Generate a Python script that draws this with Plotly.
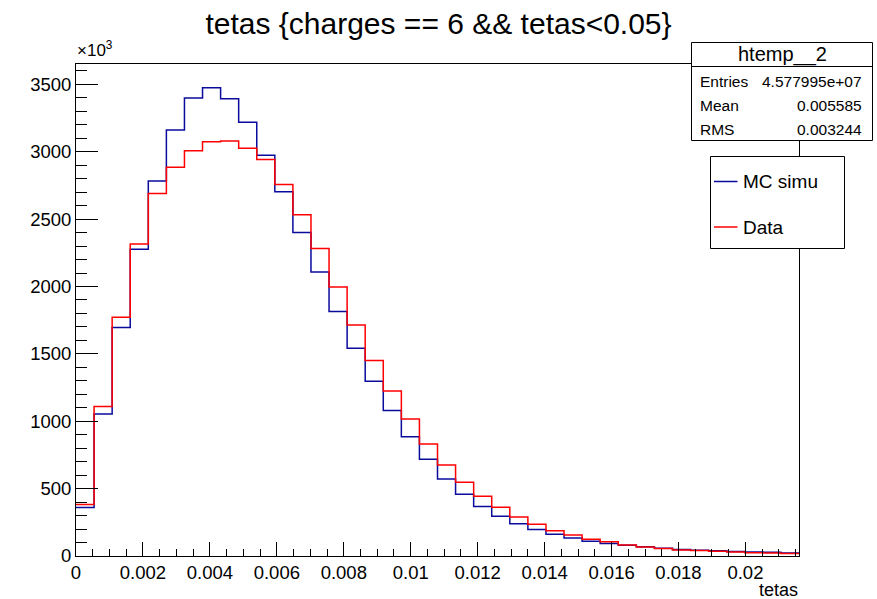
import numpy as np
import plotly.graph_objects as go

# Histogram binning of tetas
x_min, x_max, n_bins = 0.0, 0.0216, 40

# Bin contents (x10^3 entries)
mc_simu = [360, 1054, 1696, 2277, 2782, 3161, 3398, 3475, 3393, 3218,
           2973, 2703, 2401, 2108, 1814, 1542, 1297, 1080, 884, 718,
           572, 458, 367, 295, 240, 196, 161, 134, 109, 92,
           80, 68, 57, 48, 42, 39, 34, 29, 27, 23]
data = [383, 1109, 1772, 2316, 2690, 2884, 3007, 3074, 3079, 3025,
        2943, 2757, 2532, 2282, 1997, 1715, 1451, 1225, 1017, 832,
        676, 547, 443, 362, 290, 235, 188, 156, 125, 105,
        82, 67, 55, 45, 40, 35, 30, 25, 22, 18]

y_ticks = [0, 500, 1000, 1500, 2000, 2500, 3000, 3500]
x_ticks = [0, 0.002, 0.004, 0.006, 0.008, 0.01, 0.012, 0.014, 0.016, 0.018, 0.02]
x_tick_text = ["0", "0.002", "0.004", "0.006", "0.008", "0.01", "0.012",
               "0.014", "0.016", "0.018", "0.02"]

stats_rows = [("Entries", "4.577995e+07"), ("Mean", "0.005585"), ("RMS", "0.003244")]

edges = np.linspace(x_min, x_max, n_bins + 1)

FONT = "Liberation Sans, Arial, Helvetica, sans-serif"
BLUE = "#0a0a9c"
RED = "#ff0000"

W, H = 877, 599
L, R, T, B = 76, 78, 64, 43
PW, PH = W - L - R, H - T - B


def px(x):
    return (x - L) / PW


def py(y):
    return (H - B - y) / PH


def step(values):
    return list(values) + [values[-1]]


fig = go.Figure()
fig.add_trace(go.Scatter(x=edges, y=step(mc_simu), mode="lines", line_shape="hv",
                         line=dict(color=BLUE, width=1.5), name="MC simu",
                         showlegend=False))
fig.add_trace(go.Scatter(x=edges, y=step(data), mode="lines", line_shape="hv",
                         line=dict(color=RED, width=1.5), name="Data",
                         showlegend=False))

axis_common = dict(showgrid=False, zeroline=False, showline=True, linecolor="black",
                   linewidth=1, mirror=True, ticks="inside", tickcolor="black",
                   tickwidth=1, tickfont=dict(family=FONT, size=18.5, color="black"))

fig.update_xaxes(range=[x_min, x_max], tickvals=x_ticks, ticktext=x_tick_text,
                 ticklen=14,
                 minor=dict(ticks="inside", dtick=0.0005, tick0=0, ticklen=7,
                            tickcolor="black", tickwidth=1, showgrid=False),
                 **axis_common)
fig.update_yaxes(range=[0, 3651], tickvals=y_ticks, ticklen=22,
                 minor=dict(ticks="inside", dtick=100, tick0=0, ticklen=11,
                            tickcolor="black", tickwidth=1, showgrid=False),
                 **axis_common)

shapes = []
annotations = []

# Stats box
sx0, sx1, sy0, sy1, shead = 691.5, 872.5, 42.5, 140.5, 66.5
shapes.append(dict(type="rect", xref="paper", yref="paper", x0=px(sx0), x1=px(sx1),
                   y0=py(sy1), y1=py(sy0), line=dict(color="black", width=1),
                   fillcolor="white", layer="above"))
shapes.append(dict(type="line", xref="paper", yref="paper", x0=px(sx0), x1=px(sx1),
                   y0=py(shead), y1=py(shead), line=dict(color="black", width=1),
                   layer="above"))
annotations.append(dict(xref="paper", yref="paper", x=px((sx0 + sx1) / 2), y=py(54.5),
                        text="htemp__2", showarrow=False, xanchor="center",
                        yanchor="middle", font=dict(family=FONT, size=20, color="black")))
for (label, value), yy in zip(stats_rows, [81.7, 105.0, 129.3]):
    annotations.append(dict(xref="paper", yref="paper", x=px(698), y=py(yy), text=label,
                            showarrow=False, xanchor="left", yanchor="middle",
                            font=dict(family=FONT, size=15.5, color="black")))
    annotations.append(dict(xref="paper", yref="paper", x=px(864), y=py(yy), text=value,
                            showarrow=False, xanchor="right", yanchor="middle",
                            font=dict(family=FONT, size=15.5, color="black")))

# Legend box
lx0, lx1, ly0, ly1 = 710.5, 844.5, 156.5, 248.5
shapes.append(dict(type="rect", xref="paper", yref="paper", x0=px(lx0), x1=px(lx1),
                   y0=py(ly1), y1=py(ly0), line=dict(color="black", width=1),
                   fillcolor="white", layer="above"))
for name, color, yy in [("MC simu", BLUE, 181.5), ("Data", RED, 227.0)]:
    shapes.append(dict(type="line", xref="paper", yref="paper", x0=px(714), x1=px(737.5),
                       y0=py(yy), y1=py(yy), line=dict(color=color, width=1.5),
                       layer="above"))
    annotations.append(dict(xref="paper", yref="paper", x=px(741), y=py(yy), text=name,
                            showarrow=False, xanchor="left", yanchor="middle",
                            font=dict(family=FONT, size=19, color="black")))

# Exponent label for the y axis
annotations.append(dict(xref="paper", yref="paper", x=px(75), y=py(62), text="×10<sup>3</sup>",
                        showarrow=False, xanchor="left", yanchor="bottom",
                        font=dict(family=FONT, size=17, color="black")))

# x axis title, right aligned
annotations.append(dict(xref="paper", yref="paper", x=px(800), y=py(601.5), text="tetas",
                        showarrow=False, xanchor="right", yanchor="bottom",
                        font=dict(family=FONT, size=18, color="black")))

fig.update_layout(
    width=W, height=H,
    margin=dict(l=L, r=R, t=T, b=B),
    paper_bgcolor="white", plot_bgcolor="white",
    title=dict(text="tetas {charges == 6 && tetas<0.05}", x=0.5, xanchor="center",
               y=1 - 23 / H, yanchor="middle",
               font=dict(family=FONT, size=30, color="black")),
    shapes=shapes, annotations=annotations, showlegend=False,
)

fig.write_html("out.html")
